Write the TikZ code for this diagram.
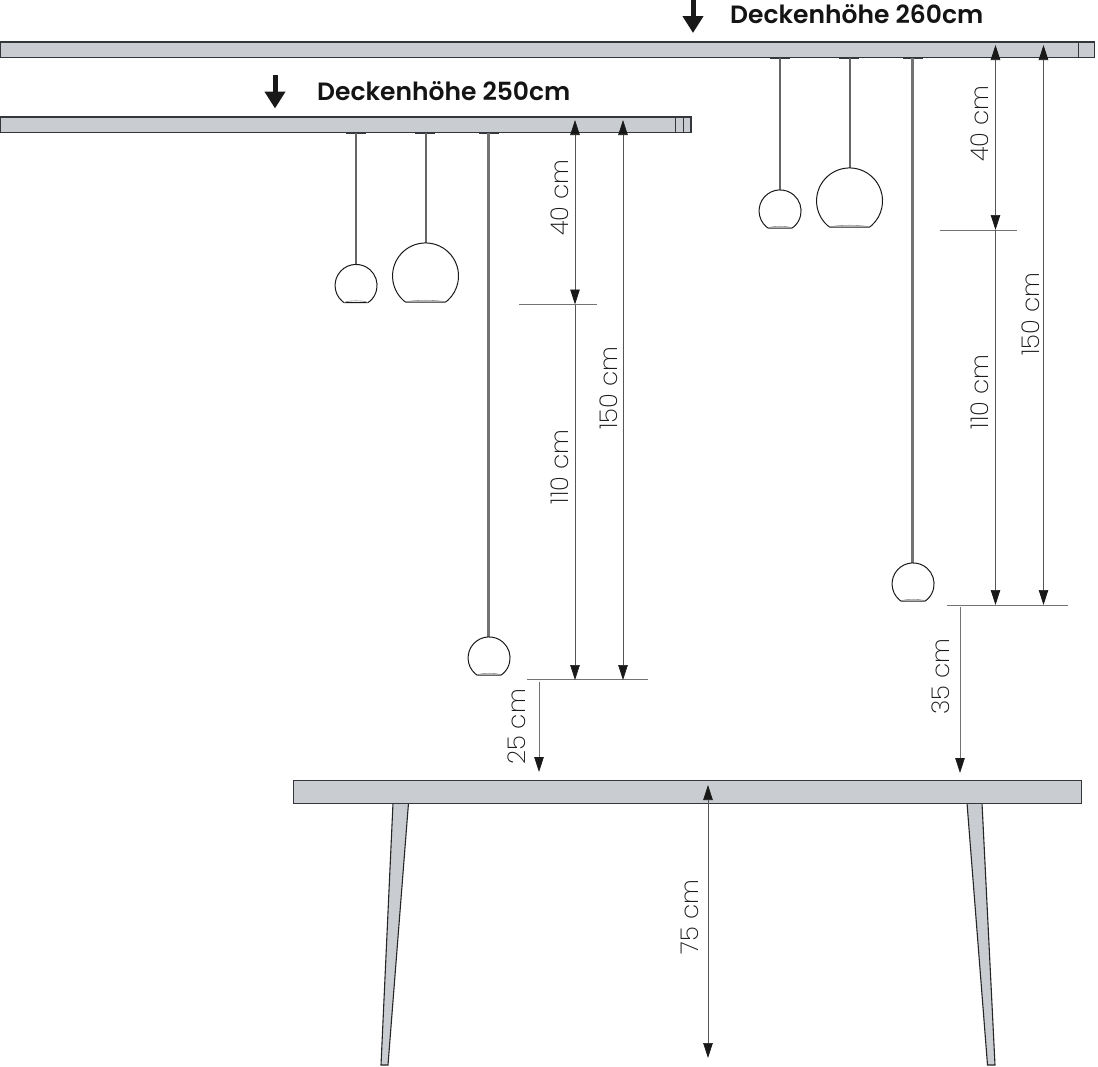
\documentclass[tikz,border=0pt]{standalone}
\usepackage{fontspec}
\setmainfont{Poppins}
\newfontfamily\lightf{Poppins ExtraLight}
\newfontfamily\semif{Poppins SemiBold}
\usetikzlibrary{arrows.meta}
\definecolor{barfill}{HTML}{C9CCD0}
\definecolor{barline}{HTML}{33363A}
\definecolor{dimgrey}{HTML}{555555}
\tikzset{
  x=1pt,y=-1pt,
  bar/.style={draw=barline,line width=1.2pt,fill=barfill},
  divider/.style={draw=barline,line width=0.7pt},
  leg/.style={draw=black!85,line width=1.1pt,fill=barfill},
  canopy/.style={draw=barline,line width=1.3pt},
  stem/.style={draw=black!60,line width=2pt},
  longstem/.style={draw=black!55,line width=2.6pt},
  globe/.style={draw=black!90,line width=1pt,fill=white},
  dimline/.style={draw=dimgrey,line width=0.7pt,{Triangle[length=15pt,width=9.5pt,black!90]}-{Triangle[length=15pt,width=9.5pt,black!90]}},
  dimend/.style={draw=dimgrey,line width=0.7pt,-{Triangle[length=15pt,width=9.5pt,black!90]}},
  dimdown/.style={draw=black!55,line width=0.8pt,-{Triangle[length=15pt,width=9.5pt,black!90]}},
  refline/.style={draw=black!55,line width=0.7pt},
  dimlabel/.style={font=\lightf\fontsize{24.5}{25}\selectfont,text=black!90,rotate=90,inner sep=0pt},
  heading/.style={font=\semif\fontsize{25}{26}\selectfont,text=black!92,inner sep=0pt,anchor=base west},
  bigarrow/.style={draw=black!90,line width=5pt,-{Triangle[length=17pt,width=20pt,black!90]}},
}
% #1 x of centre, #2 y of centre, #3 radius, #4 half opening, #5 drop to the opening
\newcommand{\lampglobe}[5]{%
  \pgfmathsetmacro{\ang}{atan2(#5,#4)}%
  \draw[globe] (#1-#4,#2+#5) arc[start angle=180+\ang,end angle=-\ang,radius=#3 pt]
     -- (#1+#4-2,#2+#5+1.5) -- (#1-#4+2,#2+#5+1.5) -- cycle;
  \draw[draw=black!45,line width=0.6pt] (#1-#4+2,#2+#5+1.5) .. controls (#1-#4/2,#2+#5-0.8) and (#1+#4/2,#2+#5-0.8) .. (#1+#4-2,#2+#5+1.5);
}
\begin{document}
\begin{tikzpicture}
\useasboundingbox (0,0) rectangle (1098,1066);

% ceiling bars
\draw[bar] (0,42) rectangle (1094.5,57.5);
\draw[divider] (1078,42) -- (1078,57.5);
\draw[bar] (0,117) rectangle (691,132.5);
\draw[divider] (675,117) -- (675,132.5);
\draw[divider] (683,117) -- (683,132.5);

% table
\draw[leg] (393,803) -- (408.5,803) -- (388,1065) -- (381,1065) -- cycle;
\draw[leg] (967,803) -- (982,803) -- (995,1065) -- (987.5,1065) -- cycle;
\draw[bar] (293.7,780.7) rectangle (1081.7,803.5);

% lamps, ceiling 250
\draw[canopy] (346,133) -- (366,133);
\draw[stem] (356,133) -- (356,265);
\lampglobe{356}{285.5}{21}{14}{15.5}
\draw[canopy] (415,133) -- (435,133);
\draw[stem] (425.5,133) -- (425.5,243);
\lampglobe{425.5}{276}{33}{22}{24.5}
\draw[canopy] (479,133) -- (499,133);
\draw[longstem] (488.5,133) -- (488.5,637);
\lampglobe{489}{658}{21}{14}{15.5}

% lamps, ceiling 260
\draw[canopy] (770,58) -- (790,58);
\draw[stem] (780,58) -- (780,190);
\lampglobe{780}{211}{21}{14}{15.5}
\draw[canopy] (839,58) -- (859,58);
\draw[stem] (849.5,58) -- (849.5,168);
\lampglobe{849.5}{201}{33}{22}{24.5}
\draw[canopy] (903,58) -- (923,58);
\draw[longstem] (912.5,58) -- (912.5,563);
\lampglobe{913}{584}{21}{14}{15.5}

% headings
\draw[bigarrow] (693,0) -- (693,33);
\node[heading] (h260) at (730,23) {Deckenhöhe 260cm};
\draw[bigarrow] (275,75) -- (275,108.5);
\node[heading] (h250) at (317,100) {Deckenhöhe 250cm};

% reference coordinates
\coordinate (a40t) at (575,120);
\coordinate (a40b) at (575,304.5);
\coordinate (a110b) at (575,680);
\coordinate (a150t) at (623,120);
\coordinate (a150b) at (623,680);
\coordinate (a25t) at (539,682);
\coordinate (a25b) at (539,772);
\coordinate (b40t) at (995.5,45);
\coordinate (b40b) at (995.5,230);
\coordinate (b110b) at (995.5,605);
\coordinate (b150t) at (1043.5,45);
\coordinate (b150b) at (1043.5,605);
\coordinate (b35t) at (960,607);
\coordinate (b35b) at (960,773);
\coordinate (t75t) at (708,785);
\coordinate (t75b) at (708,1058);

% reference lines
\draw[refline] (519,304.5) -- (597,304.5);
\draw[refline] (527,679.7) -- (648,679.7);
\draw[refline] (940,230) -- (1017,230);
\draw[refline] (947,605) -- (1068,605);

% dimension lines
\draw[dimline] (a40t) -- (a40b);
\draw[dimend] (a40b) -- (a110b);
\draw[dimline] (a150t) -- (a150b);
\draw[dimdown] (a25t) -- (a25b);
\draw[dimline] (b40t) -- (b40b);
\draw[dimend] (b40b) -- (b110b);
\draw[dimline] (b150t) -- (b150b);
\draw[dimdown] (b35t) -- (b35b);
\draw[dimline] (t75t) -- (t75b);

% dimension labels
\node[dimlabel] (l40a) at (560,197.5) {40 cm};
\node[dimlabel] (l110a) at (560,467) {110 cm};
\node[dimlabel] (l150a) at (609,388) {150 cm};
\node[dimlabel] (l25) at (517,727) {25 cm};
\node[dimlabel] (l40b) at (980,123.5) {40 cm};
\node[dimlabel] (l110b) at (980,392) {110 cm};
\node[dimlabel] (l150b) at (1031,314) {150 cm};
\node[dimlabel] (l35) at (941,676.5) {35 cm};
\node[dimlabel] (l75) at (690,917) {75 cm};
\end{tikzpicture}
\end{document}
